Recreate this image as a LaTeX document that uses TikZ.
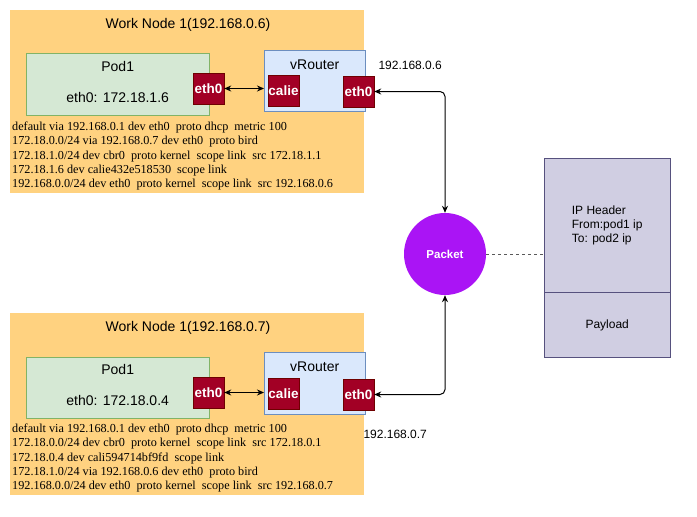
\documentclass[tikz,border=0pt]{standalone}
\usepackage{fontspec}
\setmainfont{Liberation Serif}
\newfontfamily\helvfont{Liberation Sans}
\usepackage{tikz}
\usetikzlibrary{positioning,arrows.meta,calc}
\definecolor{workcolor}{RGB}{255,210,128}
\definecolor{podcolor}{RGB}{213,232,212}
\definecolor{podborder}{RGB}{130,179,102}
\definecolor{routercolor}{RGB}{218,232,252}
\definecolor{routerborder}{RGB}{108,142,191}
\definecolor{ifacecolor}{RGB}{162,0,37}
\definecolor{ifaceborder}{RGB}{111,0,0}
\definecolor{packetcolor}{RGB}{170,20,245}
\definecolor{ipcolor}{RGB}{208,206,226}
\definecolor{ipborder}{RGB}{86,81,126}
\tikzset{
  work node/.style={
    draw=none,
    fill=workcolor,
    anchor=north west,
    minimum width=354pt,
    minimum height=183pt,
    inner sep=0pt
  },
  pod box/.style={
    draw=podborder,
    fill=podcolor,
    anchor=north west,
    minimum width=183pt,
    minimum height=62pt,
    align=center,
    font=\helvfont\fontsize{14}{17}\selectfont
  },
  router box/.style={
    draw=routerborder,
    fill=routercolor,
    anchor=north west,
    minimum width=101pt,
    minimum height=61pt
  },
  iface/.style={
    draw=ifaceborder,
    fill=ifacecolor,
    text=white,
    minimum size=31pt,
    inner sep=0pt,
    font=\helvfont\bfseries\fontsize{13.5}{16}\selectfont
  },
  big label/.style={font=\helvfont\fontsize{14}{17}\selectfont},
  small label/.style={font=\helvfont\fontsize{12}{14}\selectfont},
  route text/.style={
    anchor=north west,
    align=left,
    inner sep=0pt,
    font=\fontsize{12.2}{14.2}\selectfont
  },
  packet/.style={
    circle,
    fill=packetcolor,
    draw=none,
    minimum size=82pt,
    text=white,
    font=\helvfont\bfseries\fontsize{11.5}{14}\selectfont
  },
  ip box/.style={
    draw=ipborder,
    fill=ipcolor,
    anchor=north west,
    minimum width=126pt,
    align=left,
    font=\helvfont\fontsize{12}{14}\selectfont
  },
  arrow/.style={
    {Stealth[length=7pt,width=6pt]}-{Stealth[length=7pt,width=6pt]},
    line width=1pt
  },
  dashline/.style={dashed, dash pattern=on 3pt off 3pt, draw=black!65, line width=1pt}
}

\begin{document}
\begin{tikzpicture}[x=1pt, y=-1pt]
  \useasboundingbox (0,0) rectangle (697,517);

  % Work node 1
  \node[work node] (wn1) at (10,10) {};
  \node[big label] (wn1title) at (188,25) {Work Node 1(192.168.0.6)};
  \node[pod box] (pod1) at (26,53) {Pod1\\[14pt]eth0: 172.18.1.6\rule[-5pt]{0pt}{5pt}};
  \node[router box, label={[big label, anchor=north, yshift=-6pt]north:vRouter}] (vr1) at (264,50) {};
  \node[iface] (peth1) at (208.5,88.5) {eth0};
  \node[iface] (calie1) at (283.5,90.5) {calie};
  \node[iface] (vreth1) at (358.5,91.5) {eth0};
  \node[route text] (rt1) at (12,122) {default via 192.168.0.1 dev eth0~ proto dhcp~ metric 100\\
    172.18.0.0/24 via 192.168.0.7 dev eth0~ proto bird\\
    172.18.1.0/24 dev cbr0~ proto kernel~ scope link~ src 172.18.1.1\\
    172.18.1.6 dev calie432e518530~ scope link\\
    192.168.0.0/24 dev eth0~ proto kernel~ scope link~ src 192.168.0.6};
  \node[small label, anchor=west] (ip1) at (375,65) {192.168.0.6};

  % Work node 2
  \node[work node, minimum height=182pt] (wn2) at (10,313) {};
  \node[big label] (wn2title) at (188,328) {Work Node 1(192.168.0.7)};
  \node[pod box, minimum height=61pt] (pod2) at (26,357) {Pod1\\[14pt]eth0: 172.18.0.4\rule[-5pt]{0pt}{5pt}};
  \node[router box, minimum height=62pt, label={[big label, anchor=north, yshift=-6pt]north:vRouter}] (vr2) at (264,352) {};
  \node[iface] (peth2) at (208.5,392.5) {eth0};
  \node[iface] (calie2) at (283.5,393.5) {calie};
  \node[iface] (vreth2) at (358.5,394.5) {eth0};
  \node[route text] (rt2) at (12,424) {default via 192.168.0.1 dev eth0~ proto dhcp~ metric 100\\
    172.18.0.0/24 dev cbr0~ proto kernel~ scope link~ src 172.18.0.1\\
    172.18.0.4 dev cali594714bf9fd~ scope link\\
    172.18.1.0/24 via 192.168.0.6 dev eth0~ proto bird\\
    192.168.0.0/24 dev eth0~ proto kernel~ scope link~ src 192.168.0.7};
  \node[small label, anchor=west] (ip2) at (360,434) {192.168.0.7};

  % Packet
  \node[packet] (packet) at (445,254) {Packet};
  \node[ip box, minimum height=134pt] (iphdr) at (544,158) {IP Header\\From:pod1 ip\\To: pod2 ip};
  \node[ip box, minimum height=65pt, align=center, below=0pt of iphdr] (payload) {Payload};

  % Pod to vRouter
  \draw[arrow] (peth1.east) -- (peth1.east -| vr1.west);
  \draw[arrow] (peth2.east) -- (peth2.east -| vr2.west);

  % vRouter to packet
  \draw[arrow, rounded corners=5pt] (vreth1.east) -| (packet.north);
  \draw[arrow, rounded corners=5pt] (vreth2.east) -| (packet.south);

  % Packet detail
  \draw[dashline] (packet.east) -- (packet.east -| iphdr.west);

\end{tikzpicture}
\end{document}
